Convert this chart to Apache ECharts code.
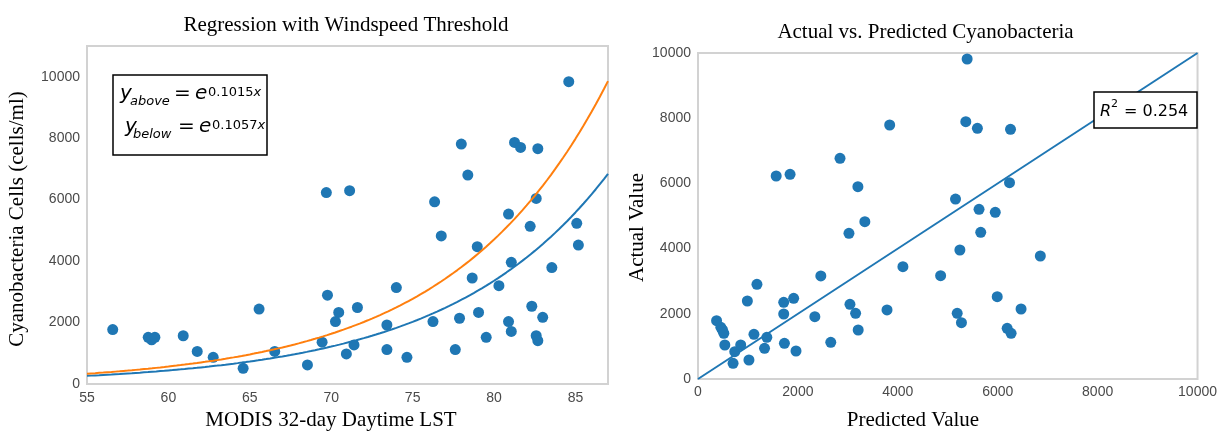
<!DOCTYPE html>
<html>
<head>
<meta charset="utf-8">
<script src="https://cdn.jsdelivr.net/npm/echarts@6/dist/echarts.min.js"></script>
<style>
  html, body { margin: 0; padding: 0; background: #fff; }
  #chart { width: 1220px; height: 431px; }
</style>
</head>
<body>
<div id="chart"></div>
<script>
// ---- Left panel: cell counts against 32-day daytime land surface temperature ----
const lstTemp = [56.58, 58.76, 58.97, 59.17, 60.91, 61.77, 62.75, 64.59, 65.57, 66.53,
  68.54, 69.44, 69.77, 70.46, 70.26, 70.93, 71.40, 71.61, 73.42, 73.42,
  74.00, 74.65, 76.25, 76.76, 77.62, 77.88, 78.66, 78.97, 79.05, 79.52,
  80.30, 80.89, 81.06, 81.06, 82.22, 82.32, 82.59, 82.69, 82.99, 83.55,
  85.08, 85.18, 69.70, 71.13, 76.35, 77.99, 78.39, 81.26, 81.63, 82.69,
  80.89, 82.59, 84.59];
const cellCount = [1770, 1520, 1440, 1520, 1570, 1060, 870, 510, 2440, 1060,
  620, 1360, 2890, 2330, 2030, 980, 1270, 2490, 1920, 1120,
  3140, 870, 2030, 4820, 1120, 2140, 3450, 4470, 2330, 1520,
  3200, 2030, 3960, 1710, 5130, 2530, 1570, 1410, 2170, 3790,
  5230, 4520, 6230, 6290, 5930, 7810, 6800, 7860, 7700, 7660,
  5530, 6040, 9840];

// Exponential fits y = e^(rate * x), above / below the windspeed threshold
const fitNames = ['above', 'below'];
const fitRates = [0.1015, 0.1057];
const fitRange = [55, 87];

const lstTicks = [55, 60, 65, 70, 75, 80, 85];
const cellTicks = [0, 2000, 4000, 6000, 8000, 10000];

// ---- Right panel: actual vs. predicted ----
const predicted = [372, 457, 491, 517, 537, 736, 702, 855, 1020, 988,
  1120, 1180, 1332, 1378, 1716, 1716, 1730, 1915, 1962, 2339,
  2459, 2658, 3022, 3042, 3155, 3207, 3340, 3784, 4102, 1565,
  1843, 2843, 3201, 3837, 5388, 5361, 5593, 6256, 6236, 5155,
  5626, 5951, 5660, 4857, 5243, 6853, 5990, 6467, 5189, 5274,
  6189, 6268];
const actual = [1790, 1585, 1503, 1401, 1043, 838, 481, 1043, 583, 2393,
  1371, 2904, 941, 1279, 1994, 2352, 1095, 2475, 859, 1911,
  3160, 1126, 4469, 2291, 2015, 1503, 4825, 2117, 3445, 6227,
  6279, 6770, 5899, 7791, 9816, 7893, 7689, 7659, 6022, 5521,
  5205, 5113, 4500, 3169, 3957, 3773, 2525, 2147, 2015, 1727,
  1555, 1402];
const rSquared = 0.254;
const valueTicks = [0, 2000, 4000, 6000, 8000, 10000];

const BLUE = '#1f77b4';
const ORANGE = '#ff7f0e';
const fitColors = [BLUE, ORANGE];

function fitCurve(rate) {
  const pts = [];
  for (let x = fitRange[0]; x <= fitRange[1] + 1e-9; x += 0.25) {
    pts.push([x, Math.exp(rate * x)]);
  }
  return pts;
}

const tickLabel = (ticks, margin) => ({
  fontFamily: 'Liberation Sans', fontSize: 14, color: '#4a4a4a', margin,
  formatter: v => (ticks.includes(v) ? String(v) : '')
});
const bare = { axisLine: { show: false }, axisTick: { show: false }, splitLine: { show: false } };

// text placed by its baseline
function txt(x, baseline, text, size, extra) {
  return {
    type: 'text', x, y: baseline - 0.297 * size, z: 100,
    style: Object.assign({ text, fontSize: size, fontFamily: 'DejaVu Sans', fill: '#000',
      align: 'left', verticalAlign: 'middle' }, extra || {})
  };
}
const serif = (x, y, text, rot) => ({
  type: 'text', x, y, rotation: rot || 0, z: 100,
  style: { text, fontSize: 21, fontFamily: 'Liberation Serif', fill: '#000',
    align: 'center', verticalAlign: 'middle' }
});
const expo = (rate) => ({
  text: '{n|' + rate + '}{i|x}',
  rich: {
    n: { fontSize: 13, fontFamily: 'DejaVu Sans', fill: '#000' },
    i: { fontSize: 13, fontFamily: 'DejaVu Sans', fontStyle: 'italic', fill: '#000' }
  }
});

// positions of the pieces of each equation line inside the box
const eqLines = [
  { y: 120, sub: 130, eq: 174, e: 195, sup: 208, base: 100 },
  { y: 125, sub: 133, eq: 178, e: 199, sup: 212, base: 133 }
];
const eqGraphics = [];
fitNames.forEach((name, i) => {
  const p = eqLines[i];
  eqGraphics.push(txt(p.y, p.base, 'y', 20, { fontStyle: 'italic' }));
  eqGraphics.push(txt(p.sub, p.base + 5, name, 13, { fontStyle: 'italic' }));
  eqGraphics.push(txt(p.eq, p.base, '=', 20));
  eqGraphics.push(txt(p.e, p.base, 'e', 20, { fontStyle: 'italic' }));
  const s = txt(p.sup, p.base - 4, '', 13);
  Object.assign(s.style, expo(fitRates[i]));
  eqGraphics.push(s);
});

const option = {
  backgroundColor: '#fff',
  animation: false,
  grid: [
    { left: 87, top: 46, width: 521, height: 338, show: true, borderColor: '#d2d2d2', borderWidth: 2, backgroundColor: '#fff' },
    { left: 698, top: 53, width: 503, height: 326, show: true, borderColor: '#d2d2d2', borderWidth: 2, backgroundColor: '#fff' }
  ],
  xAxis: [
    Object.assign({ type: 'value', gridIndex: 0, min: 55, max: 87, interval: 5, axisLabel: tickLabel(lstTicks, 7) }, bare),
    Object.assign({ type: 'value', gridIndex: 1, min: 0, max: 10000, interval: 2000, axisLabel: tickLabel(valueTicks, 6) }, bare)
  ],
  yAxis: [
    Object.assign({ type: 'value', gridIndex: 0, min: 0, max: 11000, interval: 2000, axisLabel: tickLabel(cellTicks, 7) }, bare),
    Object.assign({ type: 'value', gridIndex: 1, min: 0, max: 10000, interval: 2000, axisLabel: tickLabel(valueTicks, 7) }, bare)
  ],
  series: [
    {
      type: 'scatter', xAxisIndex: 0, yAxisIndex: 0, symbolSize: 11,
      itemStyle: { color: BLUE, opacity: 1 }, z: 2,
      data: lstTemp.map((t, i) => [t, cellCount[i]])
    },
    ...fitRates.map((r, i) => ({
      type: 'line', xAxisIndex: 0, yAxisIndex: 0, showSymbol: false, smooth: false, z: 3,
      lineStyle: { color: fitColors[i], width: 2 }, itemStyle: { color: fitColors[i] },
      data: fitCurve(r)
    })),
    {
      type: 'scatter', xAxisIndex: 1, yAxisIndex: 1, symbolSize: 11,
      itemStyle: { color: BLUE, opacity: 1 }, z: 2,
      data: predicted.map((p, i) => [p, actual[i]])
    },
    {
      type: 'line', xAxisIndex: 1, yAxisIndex: 1, showSymbol: false, z: 3,
      lineStyle: { color: BLUE, width: 2 },
      data: [[valueTicks[0], valueTicks[0]], [valueTicks[valueTicks.length - 1], valueTicks[valueTicks.length - 1]]]
    }
  ],
  graphic: [
    serif(346, 25, 'Regression with Windspeed Threshold'),
    serif(925.5, 32.5, 'Actual vs. Predicted Cyanobacteria'),
    serif(331, 420, 'MODIS 32-day Daytime LST'),
    serif(913, 420, 'Predicted Value'),
    serif(17.5, 219, 'Cyanobacteria Cells (cells/ml)', Math.PI / 2),
    serif(637.5, 227.5, 'Actual Value', Math.PI / 2),
    {
      type: 'rect', z: 90, shape: { x: 113, y: 75, width: 154, height: 80 },
      style: { fill: '#fff', stroke: '#000', lineWidth: 1.5 }
    },
    ...eqGraphics,
    {
      type: 'rect', z: 90, shape: { x: 1094, y: 92, width: 103, height: 36 },
      style: { fill: '#fff', stroke: '#000', lineWidth: 1.5 }
    },
    txt(1100, 116.5, 'R', 16, { fontStyle: 'italic' }),
    txt(1111, 107, '2', 11),
    txt(1124, 116.5, '= ' + rSquared, 16)
  ]
};

const chart = echarts.init(document.getElementById('chart'), null, { renderer: 'canvas' });
chart.setOption(option);
</script>
</body>
</html>
